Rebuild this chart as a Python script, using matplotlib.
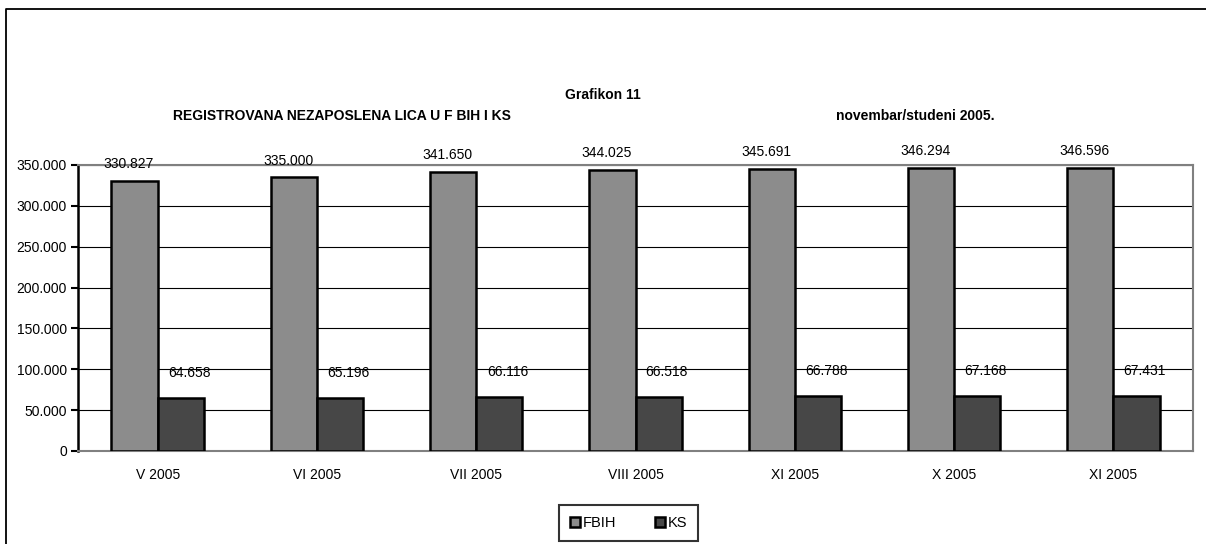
import matplotlib
matplotlib.use("Agg")
import matplotlib.pyplot as plt
from matplotlib.lines import Line2D
from matplotlib.ticker import FuncFormatter

# data
months = ["V 2005", "VI 2005", "VII 2005", "VIII 2005", "XI 2005", "X 2005", "XI 2005"]
fbih = [330827, 335000, 341650, 344025, 345691, 346294, 346596]
ks = [64658, 65196, 66116, 66518, 66788, 67168, 67431]

plt.rcParams['font.family'] = ['Liberation Sans', 'DejaVu Sans']

fig = plt.figure(figsize=(12.06, 5.44), dpi=100)
# outer chart frame: only the top and left edges are visible
W, H = 1206, 544
fig.lines.append(Line2D([5.5 / W, 5.5 / W, 1.0], [0.0, 1 - 9 / H, 1 - 9 / H],
                        transform=fig.transFigure, color="black", linewidth=1.3))

ax = fig.add_axes([78 / W, (H - 451) / H, (1193 - 78) / W, (451 - 165) / H])

x = list(range(len(months)))
w = 0.29
ax.bar([i - w / 2 for i in x], fbih, w, color="#8c8c8c", edgecolor="black",
       linewidth=1.8, label="FBIH", zorder=3)
ax.bar([i + w / 2 for i in x], ks, w, color="#474747", edgecolor="black",
       linewidth=1.8, label="KS", zorder=3)

for i in x:
    ax.annotate(f"{fbih[i] / 1000:.3f}", (i - w / 2, fbih[i]), xytext=(-4, 12),
                textcoords="offset points", ha="center", va="center", fontsize=10)
    ax.annotate(f"{ks[i] / 1000:.3f}", (i + w / 2, ks[i]), xytext=(6, 18),
                textcoords="offset points", ha="center", va="center", fontsize=10)

ax.set_xlim(-0.5, len(months) - 0.5)
ax.set_ylim(0, 350000)
ax.set_yticks(range(0, 350001, 50000))
ax.yaxis.set_major_formatter(FuncFormatter(
    lambda v, p: "0" if v == 0 else f"{v / 1000:.3f}"))
ax.set_xticks(x)
ax.set_xticklabels(months)
ax.tick_params(axis="x", length=0, pad=12, labelsize=10)
ax.tick_params(axis="y", length=5, width=1.5, direction="out", labelsize=10, pad=3)
ax.grid(axis="y", color="black", linewidth=0.8, zorder=0)
for s in ["top", "right", "bottom"]:
    ax.spines[s].set_color("#808080")
    ax.spines[s].set_linewidth(1.5)
ax.spines["left"].set_color("black")
ax.spines["left"].set_linewidth(1.8)

fig.text(603 / W, 1 - 95 / H, "Grafikon 11", ha="center", va="center",
         fontsize=10, fontweight="bold")
fig.text(173 / W, 1 - 116 / H, "REGISTROVANA NEZAPOSLENA LICA U F BIH I KS",
         ha="left", va="center", fontsize=10, fontweight="bold")
fig.text(836 / W, 1 - 116 / H, "novembar/studeni 2005.",
         ha="left", va="center", fontsize=10, fontweight="bold")

leg = fig.legend(loc="center", bbox_to_anchor=(628.5 / W, 1 - 523 / H), ncol=2,
                 frameon=True, fancybox=False, fontsize=10.5, handlelength=0.7,
                 handleheight=0.7, handletextpad=0.15, columnspacing=2.7,
                 borderpad=0.76, borderaxespad=0)
leg.get_frame().set_edgecolor("black")
leg.get_frame().set_linewidth(1.5)

fig.savefig("out.png", dpi=100)
